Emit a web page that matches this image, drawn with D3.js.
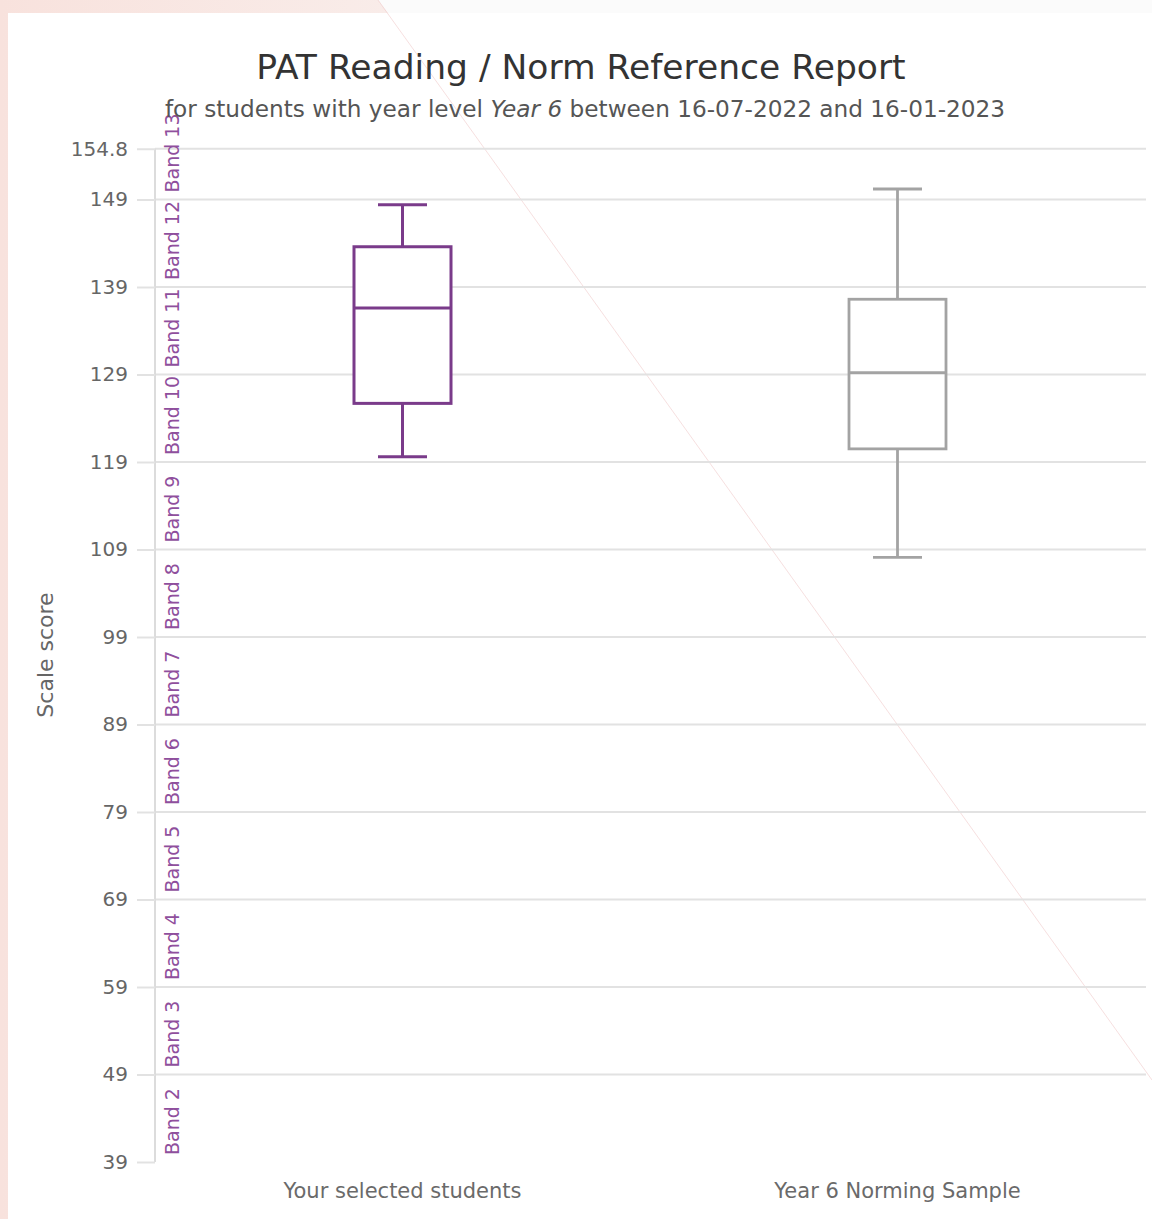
<!DOCTYPE html>
<html><head><meta charset="utf-8">
<script src="https://cdn.jsdelivr.net/npm/d3@7"></script>
<style>html,body{margin:0;padding:0;background:#fff;}svg{display:block;font-family:"DejaVu Sans",sans-serif;}</style>
</head><body>
<svg id="chart" width="1152" height="1219"></svg>
<script>
// ---- data ----
const categories = ["Your selected students", "Year 6 Norming Sample"];
const whiskerLow  = [119.6, 108.1];
const q1          = [125.7, 120.5];
const median      = [136.6, 129.2];
const q3          = [143.6, 137.6];
const whiskerHigh = [148.4, 150.2];
const seriesColors = ["#7a3b8a", "#a3a3a3"];
const yTicks = [39, 49, 59, 69, 79, 89, 99, 109, 119, 129, 139, 149, 154.8];
const bandNames = ["Band 2","Band 3","Band 4","Band 5","Band 6","Band 7","Band 8","Band 9","Band 10","Band 11","Band 12","Band 13"];
const bandStarts = [39, 49, 59, 69, 79, 89, 99, 109, 119, 129, 139, 149];
const titleText = "PAT Reading / Norm Reference Report";
const yTitle = "Scale score";

const svg = d3.select("#chart");
const W = 1152, H = 1219;

// page decoration (photo background)
svg.append("rect").attr("x",0).attr("y",0).attr("width",W).attr("height",H).attr("fill","#fbfbfb");
const bg = svg.append("defs").append("linearGradient").attr("id","pk").attr("x1","0").attr("x2","1");
bg.append("stop").attr("offset","0").attr("stop-color","#f8e2dd");
bg.append("stop").attr("offset","1").attr("stop-color","#f9ece9");
svg.append("polygon").attr("points","0,0 378,0 388,13 8,13 8,1219 0,1219").attr("fill","url(#pk)");
svg.append("rect").attr("x",8).attr("y",13).attr("width",W-8).attr("height",H-13).attr("fill","#ffffff");
svg.append("line").attr("x1",378).attr("y1",0).attr("x2",1152).attr("y2",1080)
  .attr("stroke","#f0c8c8").attr("stroke-width",0.8).attr("opacity",0.7);

// scales
const y = d3.scaleLinear().domain([39, 154.8]).range([1162, 148.75]);
const x = d3.scaleBand().domain(categories).range([155, 1145]).paddingInner(0).paddingOuter(0);
const boxW = 97, capW = 49;

// gridlines
const axisX = 155;
svg.append("g").selectAll("line").data(yTicks.filter(v => v !== 39)).join("line")
  .attr("x1", axisX).attr("x2", 1146).attr("y1", d => y(d)).attr("y2", d => y(d))
  .attr("stroke", "#e2e2e2").attr("stroke-width", 2);

// y axis
const yAxis = d3.axisLeft(y).tickValues(yTicks).tickSize(18).tickPadding(9)
  .tickFormat(d => d === 154.8 ? "154.8" : d3.format("d")(d));
const ga = svg.append("g").attr("transform", `translate(${axisX},0)`).call(yAxis);
ga.select(".domain").attr("stroke", "#dcdcdc").attr("stroke-width", 2)
  .attr("d", `M0,${y(154.8)}V${y(39)}`);
ga.selectAll(".tick line").attr("stroke", "#e2e2e2").attr("stroke-width", 2);
ga.selectAll(".tick text").attr("fill", "#666").attr("font-size", 20)
  .attr("font-family", "DejaVu Sans, sans-serif");

// band labels
svg.append("g").selectAll("text").data(bandNames).join("text")
  .attr("transform", (d, i) => `translate(179,${y(bandStarts[i]) - 7}) rotate(-90)`)
  .attr("text-anchor", "start")
  .attr("fill", "#8f4f9d").attr("font-size", 19)
  .text(d => d);

// y title
svg.append("text").attr("transform", `translate(53,655) rotate(-90)`)
  .attr("text-anchor", "middle").attr("fill", "#666").attr("font-size", 22).text(yTitle);

// titles
svg.append("text").attr("x", 581).attr("y", 79).attr("text-anchor", "middle")
  .attr("fill", "#333").attr("font-size", 34.5).text(titleText);
const sub = svg.append("text").attr("x", 585).attr("y", 117).attr("text-anchor", "middle")
  .attr("fill", "#555").attr("font-size", 23.2);
sub.append("tspan").text("for students with year level ");
sub.append("tspan").attr("font-style", "italic").text("Year 6");
sub.append("tspan").text(" between 16-07-2022 and 16-01-2023");

// boxes
const g = svg.append("g");
categories.forEach((c, i) => {
  const cx = x(c) + x.bandwidth() / 2;
  const col = seriesColors[i];
  const sw = i === 0 ? 3 : 2.8;
  g.append("line").attr("x1", cx).attr("x2", cx).attr("y1", y(whiskerHigh[i])).attr("y2", y(q3[i]))
    .attr("stroke", col).attr("stroke-width", sw);
  g.append("line").attr("x1", cx).attr("x2", cx).attr("y1", y(q1[i])).attr("y2", y(whiskerLow[i]))
    .attr("stroke", col).attr("stroke-width", sw);
  g.append("line").attr("x1", cx - capW/2).attr("x2", cx + capW/2).attr("y1", y(whiskerHigh[i])).attr("y2", y(whiskerHigh[i]))
    .attr("stroke", col).attr("stroke-width", sw);
  g.append("line").attr("x1", cx - capW/2).attr("x2", cx + capW/2).attr("y1", y(whiskerLow[i])).attr("y2", y(whiskerLow[i]))
    .attr("stroke", col).attr("stroke-width", sw);
  g.append("rect").attr("x", cx - boxW/2).attr("y", y(q3[i])).attr("width", boxW)
    .attr("height", y(q1[i]) - y(q3[i])).attr("fill", "#fff").attr("stroke", col).attr("stroke-width", sw);
  g.append("line").attr("x1", cx - boxW/2).attr("x2", cx + boxW/2).attr("y1", y(median[i])).attr("y2", y(median[i]))
    .attr("stroke", col).attr("stroke-width", sw);
  svg.append("text").attr("x", cx).attr("y", 1198).attr("text-anchor", "middle")
    .attr("fill", "#6a6a6a").attr("font-size", 21).text(c);
});
</script>
</body></html>
